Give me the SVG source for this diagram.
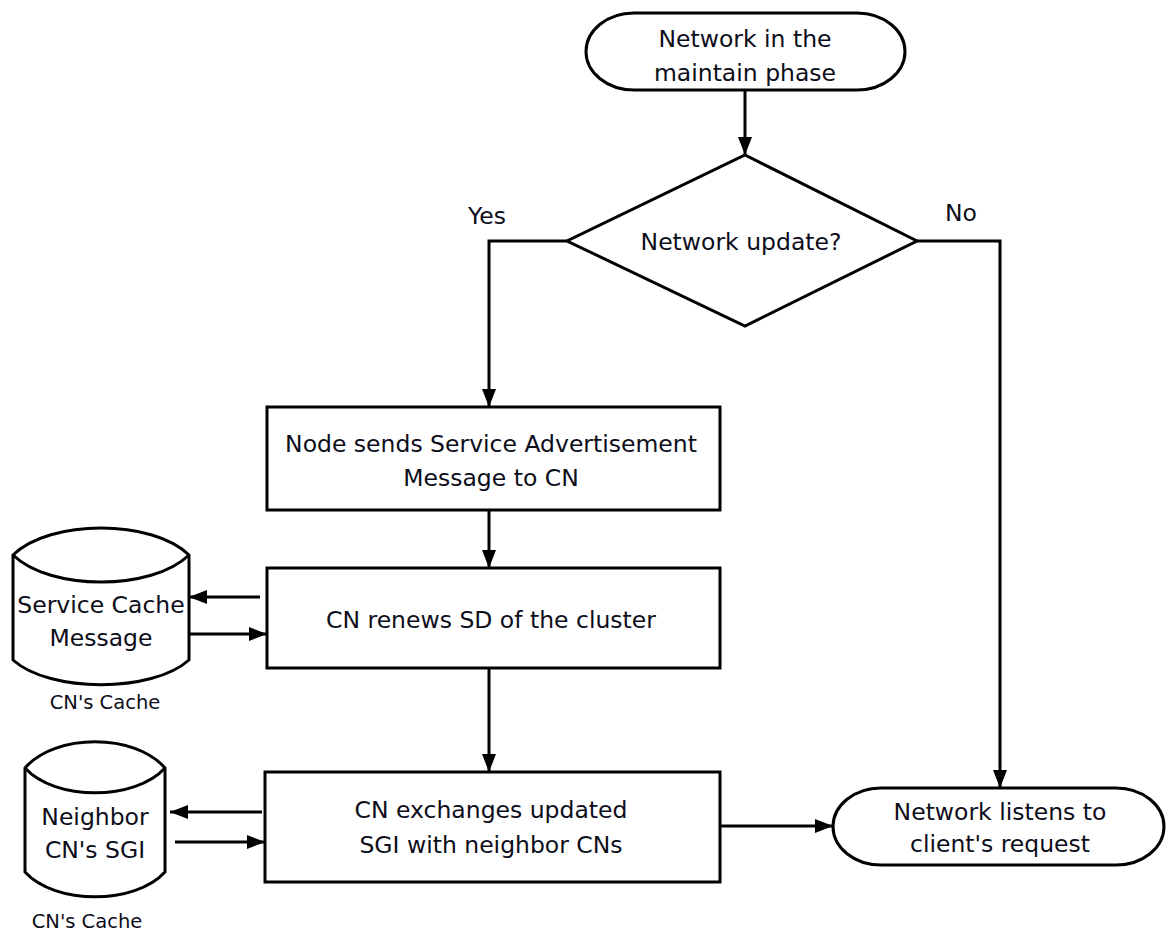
<svg xmlns="http://www.w3.org/2000/svg" width="1166" height="933" viewBox="0 0 1166 933">
  <style>
    .shape { fill: #ffffff; stroke: #000000; stroke-width: 3; }
    .line { fill: none; stroke: #000000; stroke-width: 3; }
    text { font-family: "DejaVu Sans", Verdana, sans-serif; font-size: 23.5px; fill: #0d0d1a; text-anchor: middle; }
    .small { font-size: 19.5px; }
  </style>
  <defs>
    <marker id="head" viewBox="0 0 18 14" refX="18" refY="7" markerWidth="18" markerHeight="14" markerUnits="userSpaceOnUse" orient="auto">
      <path d="M0,0 L18,7 L0,14 Z" fill="#000000"/>
    </marker>
  </defs>

  <!-- connectors -->
  <g id="connectors">
    <path class="line" d="M745,90 V155" marker-end="url(#head)"/>
    <path class="line" d="M567,241 H489 V407" marker-end="url(#head)"/>
    <path class="line" d="M917,241 H1000 V788" marker-end="url(#head)"/>
    <path class="line" d="M489,510 V568" marker-end="url(#head)"/>
    <path class="line" d="M489,668 V772" marker-end="url(#head)"/>
    <path class="line" d="M720,826 H833" marker-end="url(#head)"/>
    <path class="line" d="M260,597 H189" marker-end="url(#head)"/>
    <path class="line" d="M189,634 H267" marker-end="url(#head)"/>
    <path class="line" d="M262,812 H170" marker-end="url(#head)"/>
    <path class="line" d="M175,842 H265" marker-end="url(#head)"/>
    <text x="487" y="224">Yes</text>
    <text x="961" y="221">No</text>
  </g>

  <g id="start">
    <rect class="shape" x="586" y="13" width="319" height="77" rx="48" ry="38.5"/>
    <text x="745" y="47">Network in the</text>
    <text x="745" y="81">maintain phase</text>
  </g>

  <g id="decision">
    <path class="shape" d="M745,155 L917,241 L745,326 L567,241 Z"/>
    <text x="741" y="250">Network update?</text>
  </g>

  <g id="send">
    <rect class="shape" x="267" y="407" width="453" height="103"/>
    <text x="491" y="452">Node sends Service Advertisement</text>
    <text x="491" y="486">Message to CN</text>
  </g>

  <g id="renew">
    <rect class="shape" x="267" y="568" width="453" height="100"/>
    <text x="491" y="628">CN renews SD of the cluster</text>
  </g>

  <g id="exchange">
    <rect class="shape" x="265" y="772" width="455" height="110"/>
    <text x="491" y="818">CN exchanges updated</text>
    <text x="491" y="853">SGI with neighbor CNs</text>
  </g>

  <g id="listen">
    <rect class="shape" x="833" y="788" width="331" height="77" rx="48" ry="38.5"/>
    <text x="1000" y="820">Network listens to</text>
    <text x="1000" y="852">client's request</text>
  </g>

  <g id="service-cache">
    <path class="shape" d="M13,555 C50,519 152,519 189,555 V660 C152,693 50,693 13,660 Z"/>
    <path class="line" d="M13,555 C50,591 152,591 189,555"/>
    <text x="101" y="613">Service Cache</text>
    <text x="101" y="646">Message</text>
    <text class="small" x="105" y="709">CN's Cache</text>
  </g>

  <g id="neighbor-cache">
    <path class="shape" d="M25,768 C55,733 135,733 165,768 V872 C135,905 55,905 25,872 Z"/>
    <path class="line" d="M25,768 C55,801 135,801 165,768"/>
    <text x="95" y="825">Neighbor</text>
    <text x="95" y="858">CN's SGI</text>
    <text class="small" x="87" y="928">CN's Cache</text>
  </g>
</svg>
